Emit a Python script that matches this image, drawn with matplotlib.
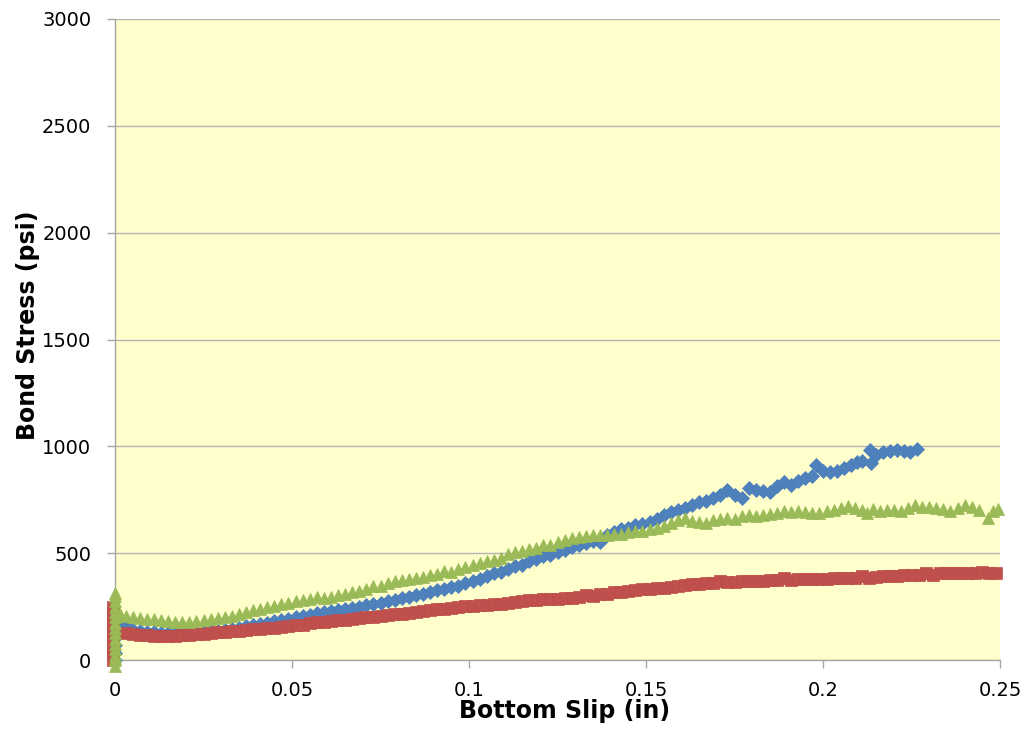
import numpy as np
import matplotlib
matplotlib.use('Agg')
import matplotlib.pyplot as plt

# series (slip in inches, bond stress in psi)
blue_x = [0.0, 0.0, 0.0, 0.0, 0.0, 0.0, 0.0,
          0.0015, 0.003, 0.005, 0.007, 0.009, 0.011, 0.013, 0.015, 0.017, 0.019,
          0.021, 0.023, 0.025, 0.027, 0.029, 0.031, 0.033, 0.035, 0.037, 0.039,
          0.041, 0.043, 0.045, 0.047, 0.049, 0.051, 0.053, 0.055, 0.057, 0.059,
          0.061, 0.063, 0.065, 0.067, 0.069, 0.071, 0.073, 0.075, 0.077, 0.079,
          0.081, 0.083, 0.085, 0.087, 0.089, 0.091, 0.093, 0.095, 0.097, 0.099,
          0.101, 0.103, 0.105, 0.107, 0.109, 0.111, 0.113, 0.115, 0.117, 0.119,
          0.121, 0.123, 0.125, 0.127, 0.129, 0.131, 0.133, 0.135, 0.137, 0.139,
          0.141, 0.143, 0.145, 0.147, 0.149, 0.151, 0.153, 0.155, 0.157, 0.159,
          0.161, 0.163, 0.165, 0.167, 0.169, 0.171, 0.173, 0.175, 0.177, 0.179,
          0.181, 0.183, 0.185, 0.187, 0.189, 0.191, 0.193, 0.195, 0.197, 0.198,
          0.200, 0.202, 0.204, 0.206, 0.208, 0.2096, 0.211, 0.2133, 0.2135, 0.215,
          0.217, 0.219, 0.221, 0.223, 0.2246, 0.2265]
blue_y = [0, 35, 70, 105, 140, 175, 200,
          180, 160, 142, 136, 132, 129, 127, 126, 125, 126,
          127, 128, 131, 134, 138, 142, 147, 152, 157, 162,
          168, 175, 181, 188, 194, 200, 206, 212, 220, 226,
          230, 236, 240, 244, 250, 256, 262, 268, 275, 282,
          288, 296, 302, 310, 318, 327, 334, 340, 348, 360,
          368, 380, 394, 405, 412, 425, 440, 446, 462, 472,
          485, 492, 505, 516, 530, 540, 548, 556, 552, 585,
          600, 612, 620, 630, 638, 648, 662, 680, 692, 700,
          710, 724, 739, 745, 760, 772, 796, 770, 758, 805,
          795, 790, 786, 815, 833, 819, 838, 851, 860, 913,
          885, 880, 885, 898, 912, 927, 930, 983, 922, 960,
          974, 978, 983, 980, 974, 988]

red_x = [-0.0005, -0.0005, -0.0005, -0.0005, -0.0005, -0.0005, -0.0005, -0.0005,
         -0.0005, -0.0005,
         0.003, 0.005, 0.007, 0.009, 0.011, 0.013, 0.015, 0.017, 0.019, 0.021,
         0.023, 0.025, 0.027, 0.029, 0.031, 0.033, 0.035, 0.037, 0.039, 0.041,
         0.043, 0.045, 0.047, 0.049, 0.051, 0.053, 0.055, 0.057, 0.059, 0.061,
         0.063, 0.065, 0.067, 0.069, 0.071, 0.073, 0.075, 0.077, 0.079, 0.081,
         0.083, 0.085, 0.087, 0.089, 0.091, 0.093, 0.095, 0.097, 0.099, 0.101,
         0.103, 0.105, 0.107, 0.109, 0.111, 0.113, 0.115, 0.117, 0.119, 0.121,
         0.123, 0.125, 0.127, 0.129, 0.131, 0.133, 0.135, 0.137, 0.139, 0.141,
         0.143, 0.145, 0.147, 0.149, 0.151, 0.153, 0.155, 0.157, 0.159, 0.161,
         0.163, 0.165, 0.167, 0.169, 0.171, 0.173, 0.175, 0.177, 0.179, 0.181,
         0.183, 0.185, 0.187, 0.189, 0.191, 0.193, 0.195, 0.197, 0.199, 0.201,
         0.203, 0.205, 0.207, 0.209, 0.211, 0.213, 0.215, 0.217, 0.219, 0.221,
         0.223, 0.225, 0.227, 0.229, 0.231, 0.233, 0.235, 0.237, 0.239, 0.241,
         0.243, 0.245, 0.247, 0.249]
red_y = [0, 28, 55, 82, 110, 138, 165, 192, 220, 248,
         128, 124, 119, 115, 113, 110, 111, 112, 116, 118,
         121, 124, 126, 130, 131, 135, 138, 140, 144, 147,
         149, 152, 155, 158, 162, 166, 171, 176, 180, 183,
         186, 189, 192, 196, 199, 202, 205, 211, 214, 216,
         221, 225, 229, 232, 237, 240, 245, 248, 252, 254,
         256, 259, 262, 264, 266, 271, 275, 279, 283, 286,
         284, 287, 289, 291, 295, 305, 300, 307, 311, 316,
         320, 324, 327, 331, 334, 336, 339, 343, 346, 350,
         355, 358, 360, 362, 372, 364, 367, 368, 370, 371,
         372, 374, 375, 382, 374, 378, 379, 380, 381, 381,
         382, 383, 383, 384, 392, 384, 389, 391, 393, 395,
         397, 399, 400, 408, 400, 405, 407, 408, 406, 407,
         408, 410, 409, 408]

green_x = [0.0, 0.0, 0.0, 0.0, 0.0, 0.0, 0.0, 0.0, 0.0, 0.0, 0.0, 0.0, 0.0, 0.0,
           0.0, 0.0,
           0.0015, 0.003, 0.005, 0.007, 0.009, 0.011, 0.013, 0.015, 0.017, 0.019,
           0.021, 0.023, 0.025, 0.027, 0.029, 0.031, 0.033, 0.035, 0.037, 0.039,
           0.041, 0.043, 0.045, 0.047, 0.049, 0.051, 0.053, 0.055, 0.057, 0.059,
           0.061, 0.063, 0.065, 0.067, 0.069, 0.071, 0.073, 0.075, 0.077, 0.079,
           0.081, 0.083, 0.085, 0.087, 0.089, 0.091, 0.093, 0.095, 0.097, 0.099,
           0.101, 0.103, 0.105, 0.107, 0.109, 0.111, 0.113, 0.115, 0.117, 0.119,
           0.121, 0.123, 0.125, 0.127, 0.129, 0.131, 0.133, 0.135, 0.137, 0.139,
           0.141, 0.143, 0.145, 0.147, 0.149, 0.151, 0.153, 0.155, 0.157, 0.159,
           0.161, 0.163, 0.165, 0.167, 0.169, 0.171, 0.173, 0.175, 0.177, 0.179,
           0.181, 0.183, 0.185, 0.187, 0.189, 0.191, 0.193, 0.195, 0.197, 0.199,
           0.201, 0.203, 0.205, 0.207, 0.209, 0.211, 0.2125, 0.214, 0.216, 0.218,
           0.220, 0.222, 0.224, 0.226, 0.228, 0.230, 0.232, 0.234, 0.236, 0.238,
           0.240, 0.242, 0.244, 0.2465, 0.248, 0.2495]
green_y = [-30, 0, 25, 50, 75, 100, 125, 150, 175, 200, 225, 250, 275, 300, 315, 10,
           215, 205, 200, 196, 194, 190, 188, 182, 178, 176,
           179, 182, 186, 192, 196, 200, 208, 216, 225, 234,
           240, 248, 254, 262, 268, 276, 282, 286, 296, 288,
           297, 305, 310, 318, 324, 332, 348, 344, 360, 370,
           375, 380, 386, 390, 396, 402, 416, 412, 426, 436,
           445, 455, 464, 470, 478, 495, 504, 512, 518, 525,
           540, 536, 552, 560, 570, 578, 580, 584, 585, 585,
           588, 592, 598, 602, 606, 612, 618, 628, 640, 655,
           665, 650, 645, 641, 655, 660, 665, 662, 672, 679,
           676, 679, 684, 690, 697, 694, 697, 692, 688, 690,
           698, 702, 710, 721, 712, 700, 688, 705, 698, 702,
           700, 697, 710, 725, 718, 715, 711, 705, 697, 712,
           725, 718, 702, 665, 697, 705]

x_ticks = [0, 0.05, 0.1, 0.15, 0.2, 0.25]
x_tick_labels = ['0', '0.05', '0.1', '0.15', '0.2', '0.25']
y_ticks = [0, 500, 1000, 1500, 2000, 2500, 3000]

fig = plt.figure(figsize=(10.26, 7.44), dpi=100)
ax = fig.add_axes([115 / 1026, 1 - 660 / 744, 885 / 1026, 641 / 744])
ax.set_facecolor('#FFFFCC')

ax.plot(blue_x, blue_y, linestyle='none', marker='D', markersize=7.2,
        color='#4F81BD', markeredgecolor='#4A7EBB', markeredgewidth=0.5, clip_on=False, zorder=3)
ax.plot(red_x, red_y, linestyle='none', marker='s', markersize=8.0,
        color='#C0504D', markeredgecolor='#BE4B48', markeredgewidth=0.5, clip_on=False, zorder=4)
ax.plot(green_x, green_y, linestyle='none', marker='^', markersize=9.2,
        color='#9BBB59', markeredgecolor='#98B954', markeredgewidth=0.5, clip_on=False, zorder=5)

ax.set_xlim(0, 0.25)
ax.set_ylim(0, 3000)
ax.set_xticks(x_ticks)
ax.set_xticklabels(x_tick_labels)
ax.set_yticks(y_ticks)

ax.grid(axis='y', color='#B3B3B3', linewidth=1.0)
ax.set_axisbelow(True)
for side in ['top', 'right']:
    ax.spines[side].set_visible(False)
for side in ['left', 'bottom']:
    ax.spines[side].set_color('#A6A6A6')
    ax.spines[side].set_linewidth(1.0)

ax.tick_params(axis='both', direction='out', length=6, width=1, color='#A6A6A6',
               labelsize=14, labelcolor='black')
ax.tick_params(axis='y', pad=11)
ax.tick_params(axis='x', pad=9)

fig.text(28 / 1026, 1 - 325 / 744, 'Bond Stress (psi)', rotation=90, ha='center', va='center',
         fontsize=17, fontweight='bold', family=['Liberation Sans Narrow', 'DejaVu Sans'])
fig.text(565 / 1026, 1 - 711 / 744, 'Bottom Slip (in)', ha='center', va='center',
         fontsize=17, fontweight='bold', family=['Liberation Sans Narrow', 'DejaVu Sans'])

fig.savefig('out.png', dpi=100)
